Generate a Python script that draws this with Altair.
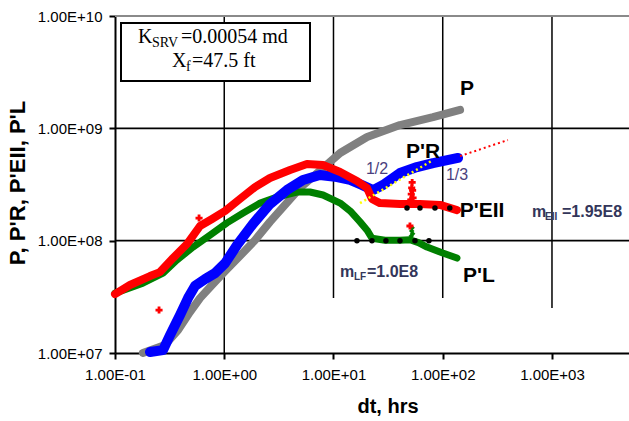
import math
import altair as alt
import pandas as pd

# ---------------- data ----------------
# P (gray)
p_dt = [0.180, 0.287, 0.378, 0.485, 0.600, 0.773, 1.02, 1.39, 1.91, 2.62, 3.60, 4.93, 6.77, 11.5,
        20.3, 40.6, 81.5, 144]
p_val = [1.0e7, 1.18e7, 1.60e7, 2.31e7, 3.08e7, 4.03e7, 5.36e7, 7.30e7, 1.01e8, 1.47e8, 2.08e8,
         2.94e8, 3.84e8, 6.03e8, 8.37e8, 1.07e9, 1.26e9, 1.46e9]

# P'R (blue)
pr_dt = [0.209, 0.275, 0.319, 0.394, 0.466, 0.540, 0.667, 0.823, 1.02, 1.31, 1.83, 2.62, 3.75, 5.26,
         7.51, 10.8, 14.2, 18.2, 23.0, 28.4, 40.6, 58.1, 81.5, 138]
pr_val = [1.02e7, 1.06e7, 1.44e7, 2.18e7, 3.08e7, 3.95e7, 4.55e7, 5.14e7, 6.31e7, 9.15e7, 1.41e8,
          2.12e8, 2.82e8, 3.47e8, 3.84e8, 3.68e8, 3.47e8, 3.13e8, 2.82e8, 3.13e8, 4.00e8, 4.52e8,
          4.91e8, 5.45e8]

# P'EII (red)
pe_dt = [0.100, 0.137, 0.209, 0.258, 0.340, 0.456, 0.600, 0.773, 1.02, 1.39, 1.91, 2.62, 4.00,
         5.72, 8.02, 11.5, 16.4, 20.3, 22.5, 26.6, 40.6, 61.9, 94.4, 135]
pe_val = [3.34e7, 4.03e7, 4.84e7, 5.25e7, 7.00e7, 9.33e7, 1.35e8, 1.56e8, 1.84e8, 2.35e8, 3.00e8,
          3.61e8, 4.25e8, 4.81e8, 4.71e8, 4.08e8, 3.40e8, 2.94e8, 2.35e8, 2.16e8, 2.12e8, 2.12e8,
          2.08e8, 1.87e8]
# scattered red points (spike and outliers)
pe_out_dt = [0.253, 0.588, 50.1, 51.0, 51.5, 52.0, 52.5, 53.0, 53.5, 49.5]
pe_out_val = [2.41e7, 1.59e8, 1.35e8, 2.3e8, 2.6e8, 2.95e8, 3.3e8, 2.8e8, 2.4e8, 2.2e8]

# P'L (green)
pl_dt = [0.100, 0.180, 0.275, 0.369, 0.518, 0.741, 1.06, 1.49, 2.13, 3.04, 4.63, 6.09, 8.02,
         11.5, 14.2, 17.5, 20.3, 22.5, 29.6, 40.6, 50.0, 60.0, 71.8, 100, 135]
pl_val = [3.41e7, 4.19e7, 5.14e7, 6.72e7, 8.77e7, 1.12e8, 1.44e8, 1.76e8, 2.16e8, 2.44e8, 2.71e8,
          2.71e8, 2.55e8, 2.16e8, 1.84e8, 1.47e8, 1.24e8, 1.05e8, 1.01e8, 1.01e8, 1.02e8, 9.6e7,
          8.77e7, 7.76e7, 7.00e7]
pl_spike_dt = [51.5, 52.0, 52.5, 53.0]
pl_spike_val = [1.1e8, 1.22e8, 1.3e8, 1.15e8]

# fitted stabilisation points (black dots)
eii_dots_dt = [47.1, 61.9, 84.9, 116]
eii_dots_val = [1.95e8, 1.95e8, 1.95e8, 1.95e8]
lf_dots_dt = [16.4, 22.5, 30.2, 40.6, 55.7, 74.8]
lf_dots_val = [1.0e8, 1.0e8, 1.0e8, 1.0e8, 1.0e8, 1.0e8]

# slope guide lines
half_dt = [17.5, 81.5]
half_val = [2.16e8, 5.22e8]
third_dt = [144, 395]
third_val = [5.66e8, 7.87e8]

# axes
x_ticks = [0.1, 1, 10, 100, 1000]
x_tick_labels = ["1.00E-01", "1.00E+00", "1.00E+01", "1.00E+02", "1.00E+03"]
y_ticks = [1e7, 1e8, 1e9, 1e10]
y_tick_labels = ["1.00E+07", "1.00E+08", "1.00E+09", "1.00E+10"]
x_domain = [0.1, 5070]
y_domain = [1e7, 1e10]

# partial vertical grid lines (as in reference)
vgrid_x = [1, 10, 100, 1000]
vgrid_low = [1e7, 3.08e7, 3.08e7, 2.51e7]
hgrid_y = [1e8, 1e9, 1e10]
hgrid_col = ["#000000", "#000000", "#8a8a8a"]

# ---------------- helpers ----------------
def label_expr(vals, labels):
    s = ""
    for v, l in zip(vals, labels):
        s += f"round(log(datum.value)/LN10) == {round(math.log10(v))} ? '{l}' : "
    return s + "''"

TICK_FONT = "Liberation Sans Narrow, Arial Narrow, Liberation Sans, Arial"
SANS = "Liberation Sans, Arial"
SERIF = "Liberation Serif, Times New Roman"

xs = alt.Scale(type="log", domain=x_domain, nice=False)
ys = alt.Scale(type="log", domain=y_domain, nice=False)

x_axis = alt.Axis(values=x_ticks, labelExpr=label_expr(x_ticks, x_tick_labels), grid=False,
                  domainColor="#000000", domainWidth=2, tickColor="#000000", tickWidth=2,
                  tickSize=6, labelFont=TICK_FONT, labelFontSize=15, labelColor="#000000",
                  labelPadding=8, labelFlush=False, labelOverlap=False, title=None)
y_axis = alt.Axis(values=y_ticks, labelExpr=label_expr(y_ticks, y_tick_labels), grid=False,
                  domainColor="#000000", domainWidth=2, tickColor="#000000", tickWidth=2,
                  tickSize=6, labelFont=TICK_FONT, labelFontSize=15, labelColor="#000000",
                  labelPadding=7, labelFlush=False, labelOverlap=False, title=None)


def X(field="dt"):
    return alt.X(f"{field}:Q", scale=xs, axis=x_axis)


def Y(field="v"):
    return alt.Y(f"{field}:Q", scale=ys, axis=y_axis)


def df(xv, yv):
    return pd.DataFrame({"dt": xv, "v": yv})

# ---------------- layers ----------------
vgrid = alt.Chart(pd.DataFrame({"dt": vgrid_x, "v": vgrid_low, "hi": [1e10] * 4})).mark_rule(
    color="#000000", strokeWidth=1.5).encode(x=X(), y=Y(), y2="hi:Q")

hgrid = alt.Chart(pd.DataFrame({"v": hgrid_y, "c": hgrid_col})).mark_rule(strokeWidth=1.8).encode(
    y=Y(), color=alt.Color("c:N", scale=None))


def band(xv, yv, color, w):
    return alt.Chart(df(xv, yv)).mark_line(color=color, strokeWidth=w, strokeCap="round",
                                           strokeJoin="round").encode(x=X(), y=Y())


def pts(xv, yv, color, shape="cross", size=60):
    return alt.Chart(df(xv, yv)).mark_point(shape=shape, filled=True, size=size, color=color,
                                            opacity=1).encode(x=X(), y=Y())


gray = band(p_dt, p_val, "#808080", 8)
green = band(pl_dt, pl_val, "#008000", 7)
green_sp = pts(pl_spike_dt, pl_spike_val, "#008000", "diamond", 30)
blue = band(pr_dt, pr_val, "#0000ff", 10)
red = band(pe_dt, pe_val, "#ff0000", 8)
red_out = pts(pe_out_dt, pe_out_val, "#ff0000", "cross", 50)

half = alt.Chart(df(half_dt, half_val)).mark_line(color="#ffff00", strokeWidth=2.5,
                                                  strokeDash=[2, 3]).encode(x=X(), y=Y())
third = alt.Chart(df(third_dt, third_val)).mark_line(color="#ff0000", strokeWidth=2,
                                                     strokeDash=[2, 3]).encode(x=X(), y=Y())
dots1 = alt.Chart(df(eii_dots_dt, eii_dots_val)).mark_circle(size=30, color="#000000", opacity=1).encode(x=X(), y=Y())
dots2 = alt.Chart(df(lf_dots_dt, lf_dots_val)).mark_circle(size=30, color="#000000", opacity=1).encode(x=X(), y=Y())


# pixel-placed text (relative to plot origin)
def txt(t, x, y, size, font=SANS, bold=False, color="#000000", align="left", baseline="alphabetic", angle=0):
    kw = dict(text=t, fontSize=size, font=font, color=color, align=align, baseline=baseline)
    if bold:
        kw["fontWeight"] = "bold"
    if angle:
        kw["angle"] = angle
    return alt.Chart(pd.DataFrame({"a": [0]})).mark_text(**kw).encode(x=alt.value(x), y=alt.value(y))


box = alt.Chart(pd.DataFrame({"a": [0]})).mark_rect(fill="#ffffff", stroke="#000000", strokeWidth=2).encode(
    x=alt.value(6), x2=alt.value(195), y=alt.value(7), y2=alt.value(65))

texts = [
    txt("K", 23, 27, 20, SERIF),
    txt("SRV", 37, 31, 14, SERIF),
    txt("=0.00054 md", 66, 27, 20, SERIF),
    txt("X", 57, 51, 20, SERIF),
    txt("f", 71, 55, 14, SERIF),
    txt("=47.5 ft", 77, 51, 20, SERIF),
    txt("P", 352, 72.5, 21, bold=True, align="center", baseline="middle"),
    txt("P'R", 308, 135.5, 21, bold=True, align="center", baseline="middle"),
    txt("1/2", 262, 152.5, 16, color="#4b3f7e", align="center", baseline="middle"),
    txt("1/3", 342, 158.5, 16, color="#4b3f7e", align="center", baseline="middle"),
    txt("P'EII", 367, 194.5, 21, bold=True, align="center", baseline="middle"),
    txt("P'L", 364, 260, 21, bold=True, align="center", baseline="middle"),
    txt("m", 417, 200.7, 16, bold=True, color="#33365a"),
    txt("EII", 430, 204, 10, bold=True, color="#33365a"),
    txt("=1.95E8", 447, 200.7, 16, bold=True, color="#33365a"),
    txt("m", 225, 260.7, 16, bold=True, color="#33365a"),
    txt("LF", 239, 264, 10, bold=True, color="#33365a"),
    txt("=1.0E8", 252, 260.7, 16, bold=True, color="#33365a"),
    txt("P, P'R, P'EII, P'L", -97, 167, 22, bold=True, align="center", baseline="middle", angle=270),
    txt("dt, hrs", 273, 391, 20, bold=True, align="center", baseline="middle"),
]

chart = alt.layer(vgrid, hgrid, gray, green, green_sp, blue, red, red_out, half, third, dots1, dots2,
                  box, *texts).properties(
    width=514, height=337,
    autosize=alt.AutoSizeParams(type="none"),
    padding={"left": 115, "top": 16, "right": 0, "bottom": 68},
    background="#ffffff",
).configure_view(stroke=None)

chart.save("out.html", embed_options={"renderer": "svg", "actions": False})
